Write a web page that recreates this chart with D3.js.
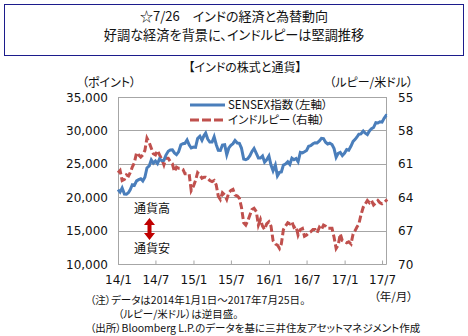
<!DOCTYPE html>
<html>
<head>
<meta charset="utf-8">
<script src="https://cdn.jsdelivr.net/npm/d3@7"></script>
<style>
  body { margin: 0; background: #fff; }
  svg text { font-family: "Noto Sans CJK JP", sans-serif; font-feature-settings: "palt"; fill: #111; }
  svg text.num { font-family: "DejaVu Sans", sans-serif; font-feature-settings: normal; }
</style>
</head>
<body>
<svg id="chart" width="468" height="336"></svg>
<script>
// Observation dates (three per month) and the two series
const dates = [
  "2014-01-01","2014-01-11","2014-01-21","2014-02-01","2014-02-11","2014-02-21",
  "2014-03-01","2014-03-11","2014-03-21","2014-04-01","2014-04-11","2014-04-21",
  "2014-05-01","2014-05-11","2014-05-21","2014-06-01","2014-06-11","2014-06-21",
  "2014-07-01","2014-07-11","2014-07-21","2014-08-01","2014-08-11","2014-08-21",
  "2014-09-01","2014-09-11","2014-09-21","2014-10-01","2014-10-11","2014-10-21",
  "2014-11-01","2014-11-11","2014-11-21","2014-12-01","2014-12-11","2014-12-21",
  "2015-01-01","2015-01-11","2015-01-21","2015-02-01","2015-02-11","2015-02-21",
  "2015-03-01","2015-03-11","2015-03-21","2015-04-01","2015-04-11","2015-04-21",
  "2015-05-01","2015-05-11","2015-05-21","2015-06-01","2015-06-11","2015-06-21",
  "2015-07-01","2015-07-11","2015-07-21","2015-08-01","2015-08-11","2015-08-21",
  "2015-09-01","2015-09-11","2015-09-21","2015-10-01","2015-10-11","2015-10-21",
  "2015-11-01","2015-11-11","2015-11-21","2015-12-01","2015-12-11","2015-12-21",
  "2016-01-01","2016-01-11","2016-01-21","2016-02-01","2016-02-11","2016-02-21",
  "2016-03-01","2016-03-11","2016-03-21","2016-04-01","2016-04-11","2016-04-21",
  "2016-05-01","2016-05-11","2016-05-21","2016-06-01","2016-06-11","2016-06-21",
  "2016-07-01","2016-07-11","2016-07-21","2016-08-01","2016-08-11","2016-08-21",
  "2016-09-01","2016-09-11","2016-09-21","2016-10-01","2016-10-11","2016-10-21",
  "2016-11-01","2016-11-11","2016-11-21","2016-12-01","2016-12-11","2016-12-21",
  "2017-01-01","2017-01-11","2017-01-21","2017-02-01","2017-02-11","2017-02-21",
  "2017-03-01","2017-03-11","2017-03-21","2017-04-01","2017-04-11","2017-04-21",
  "2017-05-01","2017-05-11","2017-05-21","2017-06-01","2017-06-11","2017-06-21",
  "2017-07-01","2017-07-11","2017-07-21","2017-07-25"
];

// SENSEX index (points)
const sensex = [
  21140,20760,21370, 20460,20440,20700, 21120,21860,21750, 22450,22630,22760,
  22420,22990,24370, 24680,25580,25110, 25410,25020,25730, 25480,25520,26310,
  26870,27060,27090, 26630,26380,26780, 27860,28010,28070, 28560,27830,27370,
  27510,27460,28780, 29120,28530,29230, 29590,28710,28260, 28260,29040,27890,
  27010,26990,27810, 27850,26370,27370, 27780,28020,28500, 28110,28070,27360,
  25700,25610,25780, 26220,26850,27290, 26560,25870,25870, 26170,25250,25590,
  26160,24820,23960, 24820,23190,23710, 23780,24800,24950, 25300,24900,25840,
  25600,25790,25300, 26710,26640,26810, 27000,27630,27710, 28000,28150,28120,
  28420,28800,28770, 28240,27970,28080, 27880,27270,25970, 26560,26700,26240,
  26600,27140,27030, 27660,28350,28660, 28980,29440,29480, 29910,29580,29370,
  29920,30250,30430, 31150,31100,31290, 31230,31800,32250, 32230
];

// Indian rupee per US dollar
const rupee = [
  61.8,61.6,62.5, 62.4,62.0,62.1, 61.8,61.3,60.9, 60.0,60.2,60.4,
  60.2,59.8,58.7, 59.1,59.6,60.1, 60.2,59.8,60.2, 60.6,61.1,60.5,
  60.5,60.8,61.0, 61.7,61.3,61.4, 61.4,61.5,61.9, 61.9,61.9,63.4,
  63.0,62.5,61.8, 62.0,62.3,62.2, 62.2,62.3,62.5, 62.6,62.5,62.9,
  63.9,64.2,63.6, 63.8,64.2,63.6, 63.4,63.3,63.8, 63.9,64.1,64.9,
  66.3,66.5,66.1, 65.6,65.1,65.0, 65.3,66.5,66.0, 66.6,66.9,66.4,
  66.2,66.6,67.9, 68.2,68.3,68.6, 68.2,66.9,66.6, 66.3,66.4,66.2,
  66.7,66.6,67.4, 66.9,66.8,67.5, 67.4,67.2,67.1, 66.9,66.9,67.2,
  66.7,66.9,66.5, 66.6,66.8,66.8, 66.8,67.6,68.6, 68.3,67.3,67.9,
  68.0,68.1,68.0, 68.2,67.3,67.0, 66.7,66.4,65.6, 64.9,64.6,64.3,
  64.5,64.3,64.7, 64.5,64.3,64.5, 64.6,64.5,64.3, 64.4
];

const leftTicks = [10000, 15000, 20000, 25000, 30000, 35000];
const rightTicks = [55, 58, 61, 64, 67, 70];
const seriesNames = ["SENSEX指数（左軸）", "インドルピー（右軸）"];

const parse = d3.timeParse("%Y-%m-%d");
const rows = dates.map((d, i) => ({ date: parse(d), sensex: sensex[i], rupee: rupee[i] }));

const svg = d3.select("#chart");
const plot = { left: 118, right: 387, top: 97, bottom: 264 };

// Heading box
svg.append("rect").attr("x", 4.5).attr("y", 4.5).attr("width", 459).attr("height", 51)
  .attr("fill", "#fff").attr("stroke", "#1c1c8c").attr("stroke-width", 1);
svg.append("text").attr("x", 234).attr("y", 20.5).attr("text-anchor", "middle")
  .attr("font-size", 13).text("☆7/26　インドの経済と為替動向");
svg.append("text").attr("x", 234).attr("y", 39.5).attr("text-anchor", "middle")
  .attr("font-size", 13.2).text("好調な経済を背景に、インドルピーは堅調推移");

svg.append("text").attr("x", 245).attr("y", 72).attr("text-anchor", "middle")
  .attr("font-size", 12).text("【インドの株式と通貨】");
svg.append("text").attr("x", 82).attr("y", 87).attr("font-size", 12).text("（ポイント）");
svg.append("text").attr("x", 413).attr("y", 87).attr("text-anchor", "end")
  .attr("font-size", 12).text("（ルピー/米ドル）");

// Scales
const x = d3.scaleTime()
  .domain([parse("2014-01-01"), parse("2017-07-25")])
  .range([plot.left, plot.right]);
const yL = d3.scaleLinear().domain([10000, 35000]).range([plot.bottom, plot.top]);
const yR = d3.scaleLinear().domain([55, 70]).range([plot.top, plot.bottom]);

// Gridlines
svg.append("g").selectAll("line").data(leftTicks).join("line")
  .attr("x1", plot.left).attr("x2", 386)
  .attr("y1", d => Math.round(yL(d)) + 0.5).attr("y2", d => Math.round(yL(d)) + 0.5)
  .attr("stroke", "#a6a6a6").attr("stroke-width", 1);

// Frame sides
svg.append("line").attr("x1", plot.left + 0.5).attr("x2", plot.left + 0.5)
  .attr("y1", plot.top).attr("y2", plot.bottom + 0.5).attr("stroke", "#a6a6a6");
svg.append("line").attr("x1", 386.5).attr("x2", 386.5)
  .attr("y1", plot.top).attr("y2", plot.bottom + 0.5).attr("stroke", "#a6a6a6");

// Left axis labels
svg.append("g").selectAll("text").data(leftTicks).join("text")
  .attr("class", "num").attr("x", 108).attr("y", d => yL(d) + 4.5)
  .attr("text-anchor", "end").attr("font-size", 12)
  .text(d => d3.format(",")(d));

// Right axis labels
svg.append("g").selectAll("text").data(rightTicks).join("text")
  .attr("class", "num").attr("x", 398).attr("y", d => yR(d) + 4.5)
  .attr("font-size", 12).text(d => d);

// Bottom axis with inward ticks
const xTicks = d3.timeMonth.every(6).range(parse("2014-01-01"), parse("2017-07-02"));
const xAxis = d3.axisBottom(x).tickValues(xTicks).tickSize(-4).tickSizeOuter(0)
  .tickFormat(d3.timeFormat("%y/%-m"));
const gx = svg.append("g").attr("transform", `translate(0,${plot.bottom + 0.5})`).call(xAxis);
gx.select(".domain").attr("stroke", "#a6a6a6").attr("d", `M${plot.left},0H386.5`);
gx.selectAll(".tick line").attr("stroke", "#a6a6a6");
gx.selectAll(".tick text").attr("class", "num").attr("font-size", 12)
  .attr("dy", 0).attr("y", 19.5).attr("fill", "#111");
svg.append("text").attr("x", 413).attr("y", 301).attr("text-anchor", "end")
  .attr("font-size", 11.5).text("（年/月）");

// Series lines
const lineL = d3.line().x(d => x(d.date)).y(d => yL(d.sensex));
const lineR = d3.line().x(d => x(d.date)).y(d => yR(d.rupee));
svg.append("path").datum(rows).attr("d", lineR).attr("fill", "none")
  .attr("stroke", "#c0504d").attr("stroke-width", 3).attr("stroke-dasharray", "7,3");
svg.append("path").datum(rows).attr("d", lineL).attr("fill", "none")
  .attr("stroke", "#4a7ebb").attr("stroke-width", 3);

// Legend
const legend = svg.append("g");
legend.append("line").attr("x1", 190).attr("x2", 225).attr("y1", 105).attr("y2", 105)
  .attr("stroke", "#4a7ebb").attr("stroke-width", 3);
legend.append("line").attr("x1", 190).attr("x2", 225).attr("y1", 120).attr("y2", 120)
  .attr("stroke", "#c0504d").attr("stroke-width", 3).attr("stroke-dasharray", "9,3");
legend.append("text").attr("x", 228).attr("y", 109).attr("font-size", 11.5).text(seriesNames[0]);
legend.append("text").attr("x", 228).attr("y", 124).attr("font-size", 11.5).text(seriesNames[1]);

// Direction note with double arrow
svg.append("text").attr("x", 152).attr("y", 213).attr("text-anchor", "middle")
  .attr("font-size", 12).text("通貨高");
svg.append("text").attr("x", 152).attr("y", 253).attr("text-anchor", "middle")
  .attr("font-size", 12).text("通貨安");
svg.append("path")
  .attr("d", "M149.5,218 L155,225 L151.5,225 L151.5,233 L155,233 L149.5,240 L144,233 L147.5,233 L147.5,225 L144,225 Z")
  .attr("fill", "#c00000");

// Footnotes
const notes = svg.append("g").attr("font-size", 10.5);
notes.append("text").attr("x", 90).attr("y", 304).text("（注）データは2014年1月1日～2017年7月25日。");
notes.append("text").attr("x", 118).attr("y", 318).text("（ルピー/米ドル）は逆目盛。");
notes.append("text").attr("x", 90).attr("y", 332).text("（出所）Bloomberg L.P.のデータを基に三井住友アセットマネジメント作成");
</script>
</body>
</html>
